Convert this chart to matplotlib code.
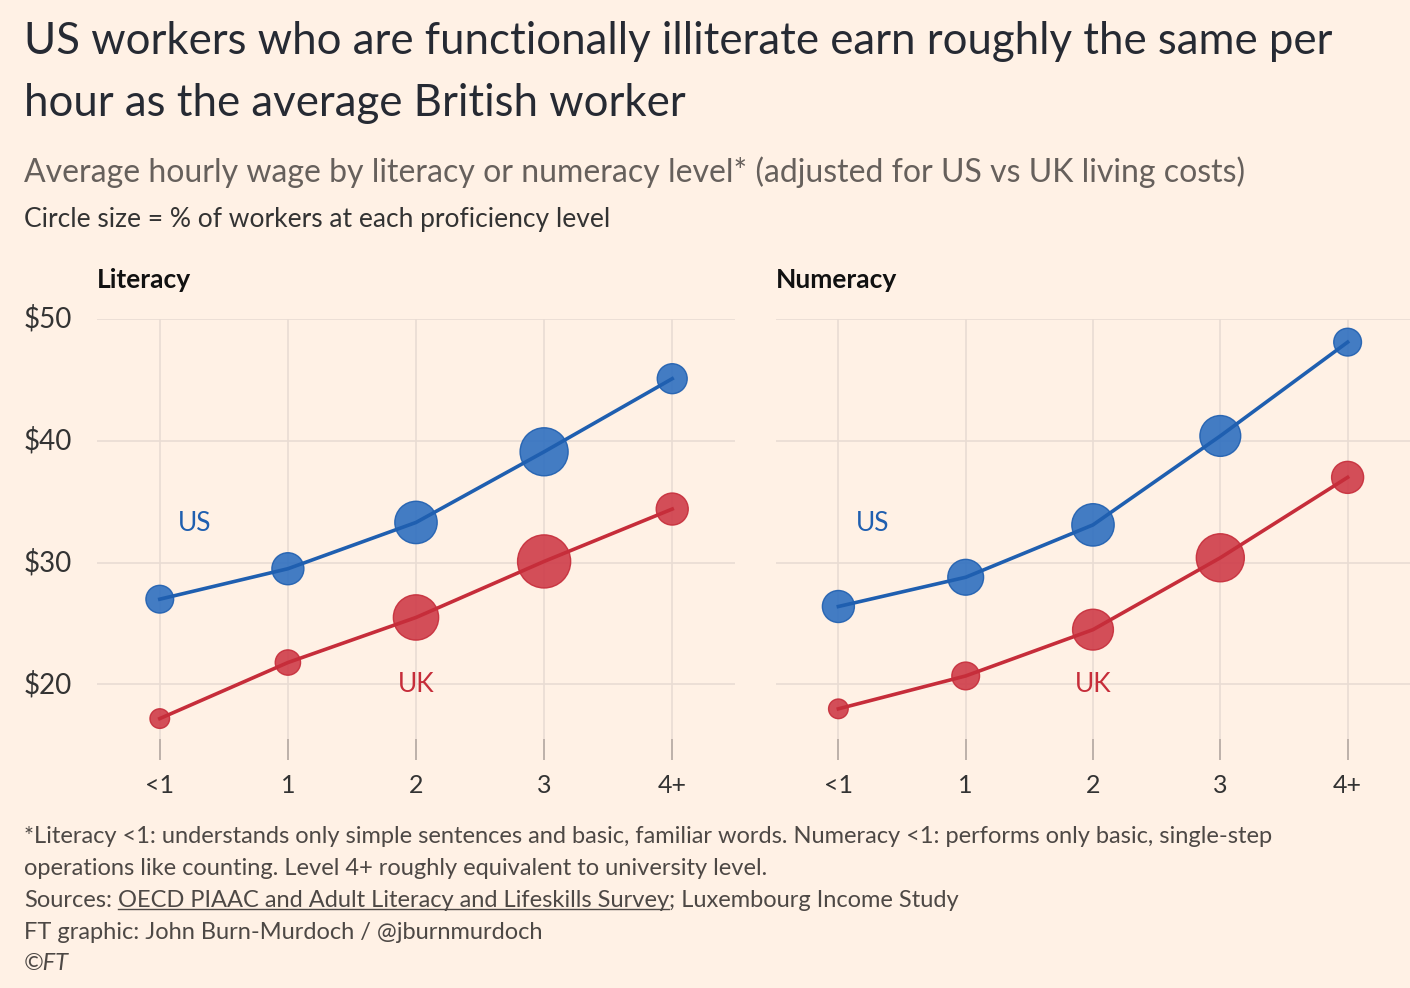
import numpy as np
import matplotlib.pyplot as plt
from matplotlib import transforms

plt.rcParams['font.family'] = ['Lato', 'DejaVu Sans']

levels = ["<1", "1", "2", "3", "4+"]
lit_us = [27.0, 29.5, 33.3, 39.1, 45.1]
lit_uk = [17.2, 21.8, 25.5, 30.1, 34.4]
num_us = [26.4, 28.8, 33.1, 40.4, 48.1]
num_uk = [18.0, 20.7, 24.5, 30.4, 37.0]
lit_us_pct = [6, 8, 14, 18, 7]
lit_uk_pct = [3, 5, 16, 22, 8]
num_us_pct = [8, 10, 14, 13, 6]
num_uk_pct = [3, 6, 13, 18, 8]
y_ticks = [20, 30, 40, 50]
y_labels = ["$20", "$30", "$40", "$50"]

BG = "#fff1e5"
BLUE = "#1f5fb0"
RED = "#c62d3a"
GRID = "#e9dcd3"

W, H = 1410, 988
fig = plt.figure(figsize=(W / 100, H / 100), dpi=100, facecolor=BG)


def px_axes(x0, y0, x1, y1):
    return fig.add_axes([x0 / W, 1 - y1 / H, (x1 - x0) / W, (y1 - y0) / H])


def size(pct):
    r_px = 5.66 * np.sqrt(np.array(pct))
    return (2 * r_px * 0.72) ** 2


def panel(ax, us, uk, us_pct, uk_pct, title):
    ax.set_facecolor(BG)
    x = np.arange(len(levels))
    ax.plot(x, us, color=BLUE, lw=2.6, zorder=3)
    ax.plot(x, uk, color=RED, lw=2.6, zorder=3)
    ax.scatter(x, us, s=size(us_pct), color="#2e6fc0", alpha=0.9, edgecolor="#1f5fb0", lw=1, zorder=2)
    ax.scatter(x, uk, s=size(uk_pct), color="#cf3c49", alpha=0.9, edgecolor="#c62d3a", lw=1, zorder=2)
    ax.set_xlim(-0.49, 4.49)
    ax.set_ylim(13.8, 50)
    ax.set_yticks(y_ticks)
    ax.set_yticklabels([])
    ax.set_xticks(x)
    ax.set_xticklabels(levels, fontsize=18, color="#333333")
    ax.tick_params(axis="x", direction="in", length=15, width=1.2, color="#b5aaa3", pad=10)
    ax.tick_params(axis="y", length=0)
    ax.grid(True, color=GRID, lw=1.2, zorder=0)
    for s in ax.spines.values():
        s.set_visible(False)
    ax.text(-0.49, 53.2, title, fontsize=19, fontweight="bold", color="#111111", va="center")
    ax.text(0.27, 33.2, "US", fontsize=19, color=BLUE, ha="center", va="center")
    ax.text(2.0, 20.0, "UK", fontsize=19, color=RED, ha="center", va="center")


ax1 = px_axes(97, 319, 735, 760)
ax2 = px_axes(776, 319, 1410, 760)
panel(ax1, lit_us, lit_uk, lit_us_pct, lit_uk_pct, "Literacy")
panel(ax2, num_us, num_uk, num_us_pct, num_uk_pct, "Numeracy")
tr = transforms.blended_transform_factory(fig.transFigure, ax1.transData)
for v, lab in zip(y_ticks, y_labels):
    ax1.text(24 / W, v, lab, transform=tr, fontsize=20, color="#333333",
             ha="left", va="center", clip_on=False)

fig.text(24 / W, 1 - 42 / H, "US workers who are functionally illiterate earn roughly the same per",
         fontsize=31.5, color="#262a33", va="center")
fig.text(24 / W, 1 - 104 / H, "hour as the average British worker",
         fontsize=31.5, color="#262a33", va="center")
fig.text(24 / W, 1 - 172 / H,
         "Average hourly wage by literacy or numeracy level* (adjusted for US vs UK living costs)",
         fontsize=23, color="#66605c", va="center")
fig.text(24 / W, 1 - 219 / H, "Circle size = % of workers at each proficiency level",
         fontsize=19, color="#333333", va="center")

foot = [
    "*Literacy <1: understands only simple sentences and basic, familiar words. Numeracy <1: performs only basic, single-step",
    "operations like counting. Level 4+ roughly equivalent to university level.",
    None,
    "FT graphic: John Burn-Murdoch / @jburnmurdoch",
    "©FT",
]
ys = [836, 868, 900, 932, 963]
for t, y in zip(foot, ys):
    if t:
        fig.text(24 / W, 1 - y / H, t, fontsize=17, color="#4d4845", va="center",
                 style="italic" if t == "©FT" else "normal")
s0 = fig.text(24 / W, 1 - 900 / H, "Sources:", fontsize=17, color="#4d4845", va="center")
fig.canvas.draw()
b0 = s0.get_window_extent()
src = fig.text((b0.x1 + 6) / W, 1 - 900 / H, "OECD PIAAC and Adult Literacy and Lifeskills Survey",
               fontsize=17, color="#4d4845", va="center")
fig.canvas.draw()
bb = src.get_window_extent()
fig.add_artist(plt.Line2D([bb.x0 / W, bb.x1 / W], [(bb.y0 + 2) / H, (bb.y0 + 2) / H],
                          color="#4d4845", lw=1))
fig.text(bb.x1 / W, 1 - 900 / H, "; Luxembourg Income Study", fontsize=17, color="#4d4845", va="center")

fig.savefig("out.png", dpi=100, facecolor=BG)
